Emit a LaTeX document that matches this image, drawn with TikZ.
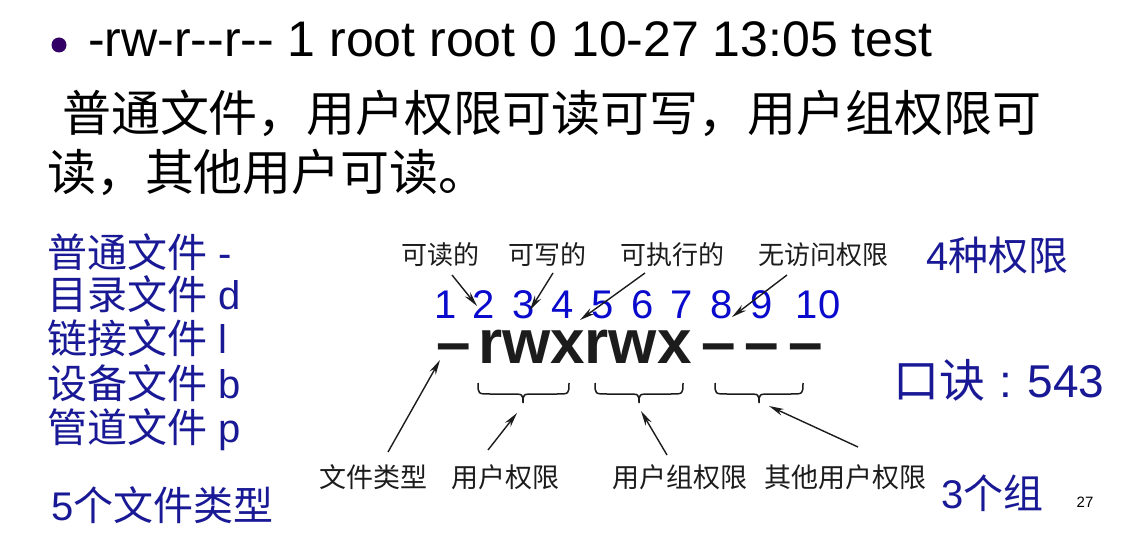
\documentclass[tikz,border=0pt]{standalone}
\usepackage{fontspec}
\setmainfont{Liberation Sans}
\newfontfamily\lat{Liberation Sans}
\newfontfamily\cjk{Noto Sans CJK SC}
\usetikzlibrary{arrows.meta}
\definecolor{bulletc}{RGB}{51,0,102}
\definecolor{listblue}{RGB}{25,25,150}
\definecolor{numblue}{RGB}{10,10,205}
\definecolor{darkg}{RGB}{28,28,28}
\newcommand{\fs}[1]{\fontsize{#1}{#1}\selectfont}
\tikzset{
  txt/.style={inner sep=0pt, outer sep=0pt},
  bluelist/.style={txt, anchor=west, text=listblue, font=\fs{40}},
  small/.style={txt, text=darkg, font=\cjk\fs{26}},
  num/.style={txt, anchor=base, text=numblue, font=\fs{40}},
  perm/.style={txt, anchor=base, text=darkg, font=\bfseries\fs{62}},
  arr/.style={draw=darkg, line width=1.4pt, -{Stealth[length=15pt,width=7pt]}},
  bracec/.style={draw=darkg, line width=1.5pt}
}
\begin{document}
\begin{tikzpicture}[x=1pt,y=-1pt]
\useasboundingbox (0,0) rectangle (1133,540);
\fill[white] (0,0) rectangle (1133,540);

% header
\fill[bulletc] (59,45) circle (7.5);
\node[txt, anchor=base west, font=\lat\fs{50}] (head) at (88,57) {-rw-r--r-- 1 root root 0 10-27 13:05 test};
\node[txt, anchor=west, font=\cjk\fs{49}] (l2) at (62,113) {普通文件，用户权限可读可写，用户组权限可};
\node[txt, anchor=west, font=\cjk\fs{49}] (l3) at (47,172) {读，其他用户可读。};

% left list
\node[bluelist] (t1) at (47,252) {{\cjk 普通文件} -};
\node[bluelist] (t2) at (47,294) {{\cjk 目录文件} d};
\node[bluelist] (t3) at (47,338) {{\cjk 链接文件} l};
\node[bluelist] (t4) at (47,383) {{\cjk 设备文件} b};
\node[bluelist] (t5) at (47,430) {{\cjk 管道文件} p};
\node[bluelist] (t6) at (51,505) {5{\cjk 个文件类型}};

% top labels
\node[small] (r) at (440,255) {可读的};
\node[small] (w) at (547,255) {可写的};
\node[small] (x) at (672,255) {可执行的};
\node[small] (na) at (823,255) {无访问权限};

% numbers
\node[num] (n1) at (446,319) {1};
\node[num] (n2) at (484,319) {2};
\node[num] (n3) at (524,319) {3};
\node[num] (n4) at (563,319) {4};
\node[num] (n5) at (603,319) {5};
\node[num] (n6) at (643,319) {6};
\node[num] (n7) at (682,319) {7};
\node[num] (n8) at (722,319) {8};
\node[num] (n9) at (762,319) {9};
\node[num] (n10) at (818,319) {10};

% permission string
\node[perm] (d0) at (454,363) {\textendash};
\node[perm, anchor=base west] (rwx) at (478,363) {rwxrwx};
\node[perm] (d1) at (719,363) {\textendash};
\node[perm] (d2) at (762,363) {\textendash};
\node[perm] (d3) at (806,363) {\textendash};

% braces
\draw[bracec] (478,383) .. controls (478,394) .. (490,394) -- (511,394) .. controls (523,394) .. (523,403) .. controls (523,394) .. (535,394) -- (557,394) .. controls (569,394) .. (569,383);
\draw[bracec] (595,383) .. controls (595,394) .. (607,394) -- (627,394) .. controls (639,394) .. (639,403) .. controls (639,394) .. (651,394) -- (671,394) .. controls (683,394) .. (683,383);
\draw[bracec] (715,383) .. controls (715,394) .. (727,394) -- (747,394) .. controls (759,394) .. (759,403) .. controls (759,394) .. (771,394) -- (791,394) .. controls (803,394) .. (803,383);

% bottom labels
\node[small, font=\cjk\fs{27}] (ft) at (373,477) {文件类型};
\node[small, font=\cjk\fs{27}] (up) at (505,477) {用户权限};
\node[small, font=\cjk\fs{27}] (gp) at (680,477) {用户组权限};
\node[small, font=\cjk\fs{27}] (op) at (845,477) {其他用户权限};

% right side
\node[txt, anchor=west, text=listblue, font=\fs{40}] (four) at (926,255) {4{\cjk 种权限}};
\node[txt, anchor=base west, text=listblue, font=\fs{46}] (kj) at (893,397) {{\cjk 口诀}\hspace{14pt}:\hspace{16pt}543};
\node[txt, anchor=west, text=listblue, font=\fs{40}] (three) at (941,493) {3{\cjk 个组}};
\node[txt, font=\fs{15}] (pg) at (1085,502) {27};

% arrow coordinates
\coordinate (ra) at (452,275); \coordinate (rb) at (477,306);
\coordinate (wa) at (553,273); \coordinate (wb) at (530,310);
\coordinate (xa) at (645,273); \coordinate (xb) at (580,320);
\coordinate (naa) at (787,275); \coordinate (nab) at (732,317);
\coordinate (fta) at (388,452); \coordinate (ftb) at (440,360);
\coordinate (upa) at (488,450); \coordinate (upb) at (517,413);
\coordinate (gpa) at (667,455); \coordinate (gpb) at (641,411);
\coordinate (opa) at (858,447); \coordinate (opb) at (769,406);

\draw[arr] (ra) -- (rb);
\draw[arr] (wa) -- (wb);
\draw[arr] (xa) -- (xb);
\draw[arr] (naa) -- (nab);
\draw[arr] (fta) -- (ftb);
\draw[arr] (upa) -- (upb);
\draw[arr] (gpa) -- (gpb);
\draw[arr] (opa) -- (opb);
\end{tikzpicture}
\end{document}
